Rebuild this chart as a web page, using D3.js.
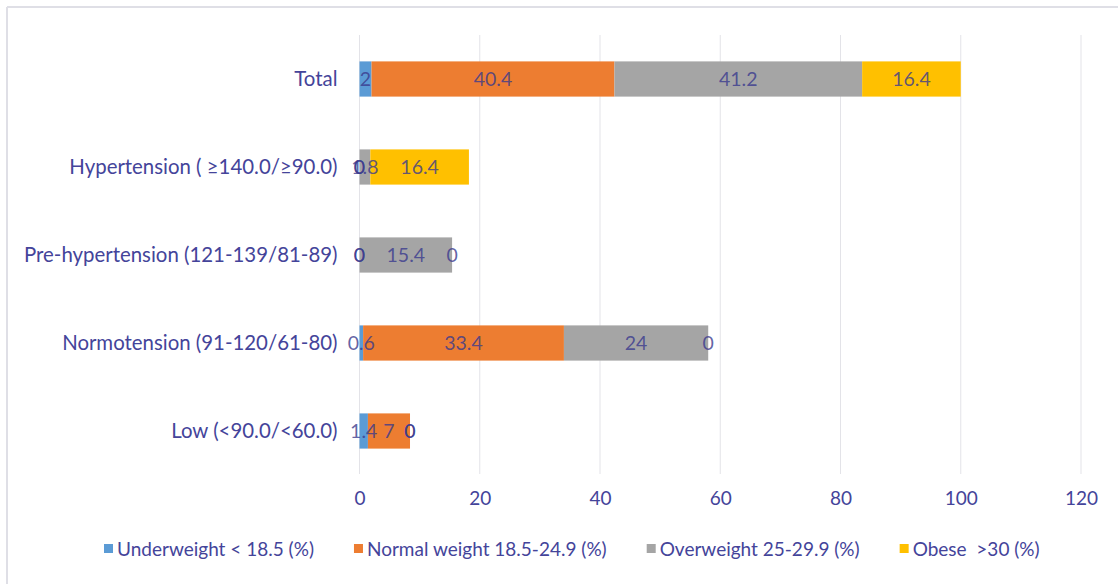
<!DOCTYPE html>
<html>
<head>
<meta charset="utf-8">
<script src="https://cdn.jsdelivr.net/npm/d3@7"></script>
<style>
  html, body { margin: 0; padding: 0; background: #fff; }
  svg { display: block; }
  text { font-family: Lato, "Noto Sans", sans-serif; }
  .legend text { white-space: pre; }
</style>
</head>
<body>
<svg id="chart" width="1118" height="584"></svg>
<script>
// Blood-pressure groups, listed top to bottom
const categories = [
  "Total",
  "Hypertension ( \u2265140.0/\u226590.0)",
  "Pre-hypertension (121-139/81-89)",
  "Normotension (91-120/61-80)",
  "Low (<90.0/<60.0)"
];
const seriesNames = [
  "Underweight < 18.5 (%)",
  "Normal weight 18.5-24.9 (%)",
  "Overweight 25-29.9 (%)",
  "Obese  >30 (%)"
];
const underweight  = [2,    0,    0,    0.6,  1.4];
const normalWeight = [40.4, 0,    0,    33.4, 7];
const overweight   = [41.2, 1.8,  15.4, 24,   0];
const obese        = [16.4, 16.4, 0,    0,    0];
const xTicks = [0, 20, 40, 60, 80, 100, 120];
const colors = ["#5b9bd5", "#ed7d31", "#a5a5a5", "#ffc000"];

const seriesValues = [underweight, normalWeight, overweight, obese];
const rows = categories.map((c, i) => {
  const r = { category: c };
  seriesNames.forEach((s, j) => { r[s] = seriesValues[j][i]; });
  return r;
});

const svg = d3.select("#chart");
const W = 1118, H = 584;
const FONT = "Lato, 'Noto Sans', sans-serif";

// frame lines along top and left edges
svg.append("line").attr("x1", 7).attr("x2", W).attr("y1", 7).attr("y2", 7)
  .attr("stroke", "#dfdfe6").attr("stroke-width", 2);
svg.append("line").attr("x1", 7).attr("x2", 7).attr("y1", 7).attr("y2", H)
  .attr("stroke", "#dfdfe6").attr("stroke-width", 2);

const x = d3.scaleLinear().domain([0, 120]).range([359.5, 1081]);
const y = d3.scaleBand().domain(categories).range([35, 475]).paddingInner(0.6).paddingOuter(0.3);

const textColor = "#44449a";

// vertical gridlines
svg.append("g").selectAll("line").data(xTicks).join("line")
  .attr("x1", d => x(d)).attr("x2", d => x(d))
  .attr("y1", 35).attr("y2", 474)
  .attr("stroke", "#e3e3e8").attr("stroke-width", 1);

// x axis tick labels
const xAxis = d3.axisBottom(x).tickValues(xTicks).tickSize(0).tickPadding(0);
const gx = svg.append("g").attr("transform", "translate(0,491)").call(xAxis);
gx.select(".domain").remove();
gx.selectAll("text").attr("fill", textColor).attr("font-size", 19)
  .attr("dy", "0.75em").attr("font-family", FONT);

// category labels
const yAxis = d3.axisLeft(y).tickSize(0).tickPadding(22);
const gy = svg.append("g").attr("transform", `translate(${x(0)},0)`).call(yAxis);
gy.select(".domain").remove();
gy.selectAll("text").attr("fill", textColor).attr("font-size", 20.4)
  .attr("font-family", FONT);

// stacked bars
const stack = d3.stack().keys(seriesNames);
const layers = stack(rows);

const gl = svg.append("g").selectAll("g").data(layers).join("g")
  .attr("fill", (d, i) => colors[i]);
gl.selectAll("rect").data(d => d.map(p => ({ p, key: d.key })))
  .join("rect")
  .attr("x", d => x(d.p[0]))
  .attr("width", d => x(d.p[1]) - x(d.p[0]))
  .attr("y", d => y(d.p.data.category))
  .attr("height", y.bandwidth());

// value labels centred on each segment
const gt = svg.append("g");
layers.forEach(layer => {
  layer.forEach(p => {
    const v = p.data[layer.key];
    gt.append("text")
      .attr("x", x((p[0] + p[1]) / 2))
      .attr("y", y(p.data.category) + y.bandwidth() / 2)
      .attr("dy", "0.36em")
      .attr("text-anchor", "middle")
      .attr("font-size", 19.5)
      .attr("font-family", FONT)
      .attr("fill", "#3a3a8e")
      .attr("fill-opacity", 0.8)
      .text(v);
  });
});

// legend: entries laid out left to right with an even gap
const lg = svg.append("g").attr("class", "legend");
let lx = 104;
seriesNames.forEach((name, i) => {
  const g = lg.append("g").attr("transform", `translate(${lx},549)`);
  g.append("rect").attr("x", 0).attr("y", -5).attr("width", 9).attr("height", 9)
    .attr("fill", colors[i]);
  const t = g.append("text").attr("x", 13).attr("y", 0).attr("dy", "0.36em")
    .attr("font-size", 19).attr("font-family", FONT)
    .attr("fill", textColor).text(name);
  lx += 13 + t.node().getComputedTextLength() + 40;
});
</script>
</body>
</html>
